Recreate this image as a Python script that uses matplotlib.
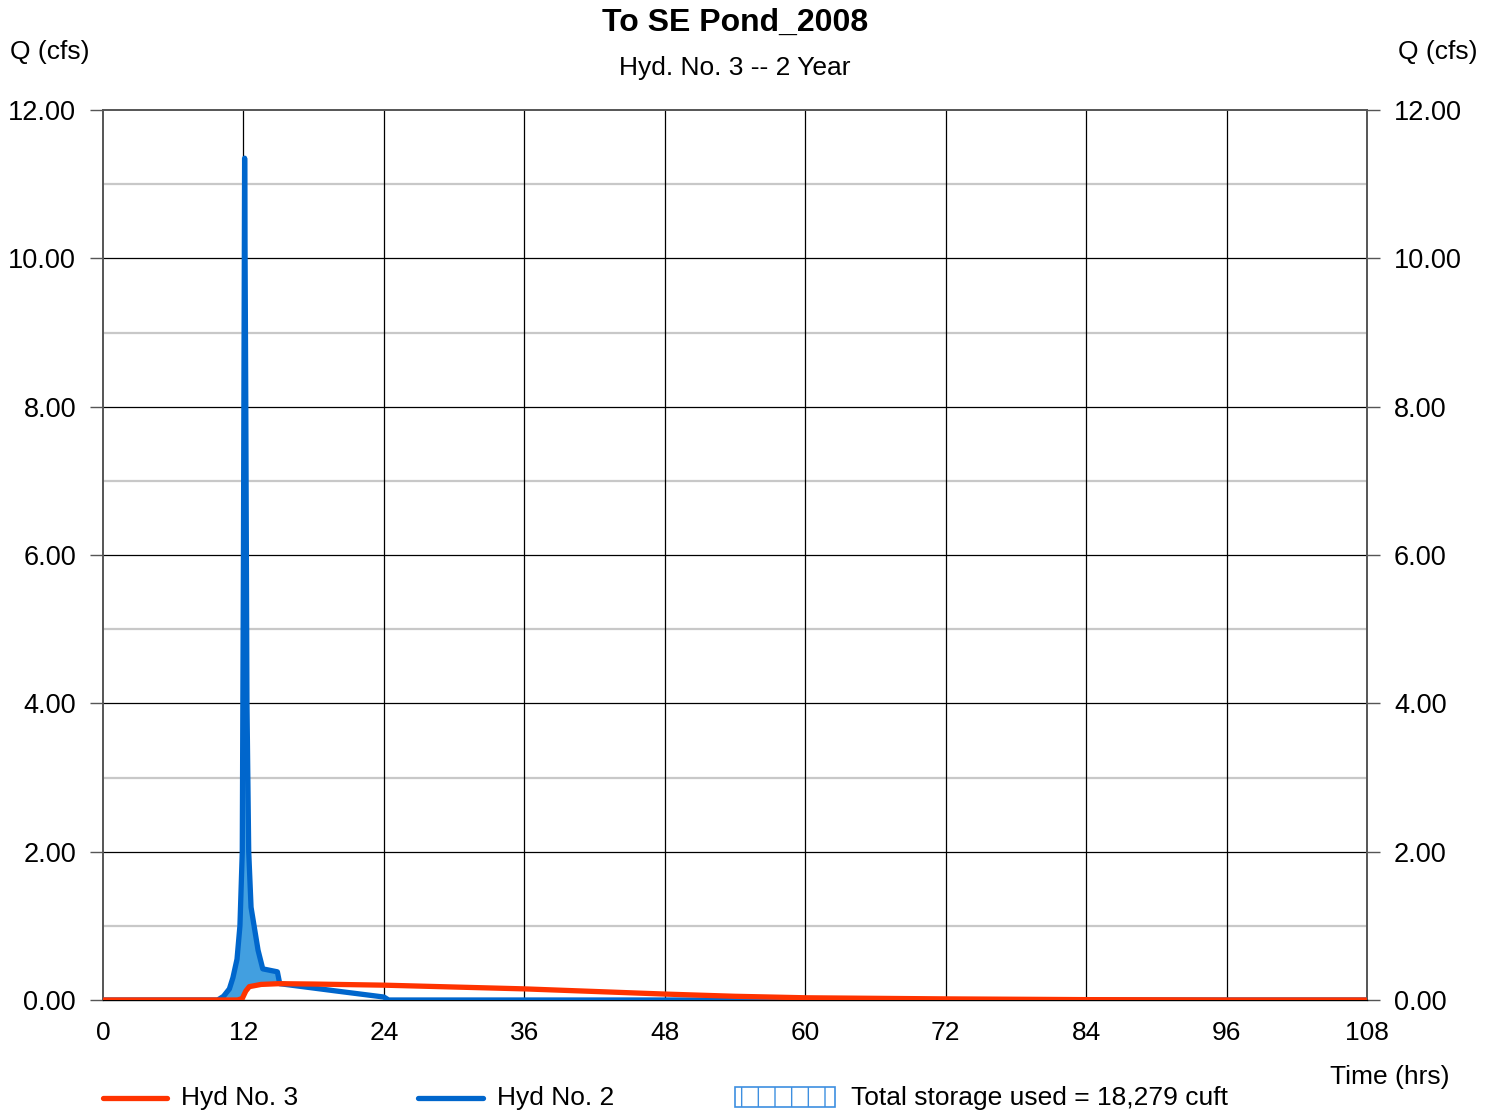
import numpy as np
import matplotlib
matplotlib.use("Agg")
import matplotlib.pyplot as plt
from matplotlib.lines import Line2D
from matplotlib.patches import Rectangle

plt.rcParams['font.family'] = ['Liberation Sans', 'DejaVu Sans']
plt.rcParams['hatch.linewidth'] = 1.0

# inflow hydrograph (Hyd No. 2)
t_in = [0, 9.8, 10.3, 10.8, 11.1, 11.45, 11.7, 11.9, 12.0, 12.1, 12.2, 12.3, 12.45,
        12.65, 13.25, 13.65, 14.9, 15.1, 20.0, 24.0, 24.4, 108]
q_in = [0, 0, 0.05, 0.15, 0.3, 0.55, 1.0, 2.0, 6.0, 11.35, 8.0, 4.0, 2.0,
        1.25, 0.67, 0.42, 0.38, 0.22, 0.12, 0.04, 0.0, 0.0]

# outflow hydrograph (Hyd No. 3)
t_out = [0, 11.5, 11.9, 12.2, 12.5, 13.5, 15.0, 18.0, 24.0, 36.0, 48.0, 54.0,
         60.0, 72.0, 84.0, 96.0, 108.0]
q_out = [0, 0, 0.02, 0.12, 0.18, 0.21, 0.22, 0.215, 0.2, 0.15, 0.08, 0.05,
         0.03, 0.015, 0.005, 0.0, 0.0]

x_ticks = [0, 12, 24, 36, 48, 60, 72, 84, 96, 108]
y_ticks = [0, 2, 4, 6, 8, 10, 12]
storage = "18,279"

red = '#ff3300'
blue = '#0066cc'
fill_col = '#429fe0'

fig = plt.figure(figsize=(14.94, 11.12), dpi=100)
ax = fig.add_axes([103/1494, 1 - 1000/1112, 1264/1494, 890/1112])

# storage area: where inflow exceeds outflow
tt = np.union1d(t_in, t_out)
qi = np.interp(tt, t_in, q_in)
qo = np.interp(tt, t_out, q_out)
ax.fill_between(tt, qi, qo, where=qi > qo, interpolate=True, color=fill_col,
                lw=0, zorder=2)
ax.plot(t_in, q_in, color=blue, lw=3.8, solid_capstyle='round',
        solid_joinstyle='round', zorder=3)
ax.plot(t_out, q_out, color=red, lw=3.8, solid_capstyle='round',
        solid_joinstyle='round', zorder=4)

ax.set_xlim(0, 108)
ax.set_ylim(0, 12)

# grid
for y in range(1, 12, 2):
    ax.axhline(y, color='#c8c8c8', lw=1.6, zorder=1)
for y in y_ticks[1:-1]:
    ax.axhline(y, color='black', lw=0.9, zorder=1)
for x in x_ticks[1:-1]:
    ax.axvline(x, color='black', lw=0.9, zorder=1)

for s in ['top', 'left', 'right']:
    ax.spines[s].set_color('#555555')
    ax.spines[s].set_linewidth(1.4)
ax.spines['bottom'].set_color('black')
ax.spines['bottom'].set_linewidth(1.0)

ax.set_xticks(x_ticks)
ax.set_xticklabels([str(v) for v in x_ticks])
ax.set_yticks(y_ticks)
ax.set_yticklabels(['%.2f' % v for v in y_ticks])
ax.tick_params(axis='x', length=0, pad=15, labelsize=19)
ax.tick_params(axis='y', which='major', direction='out', length=9.4, width=1.0,
               color='#555555', labelsize=19.5, left=True, right=True,
               labelleft=True, labelright=True, pad=10)
for lab in ax.get_yticklabels(which='major'):
    pass

# titles and axis labels
fig.text(735/1494, 1 - 23/1112, 'To SE Pond_2008', ha='center', va='center',
         fontsize=23, fontweight='bold')
fig.text(735/1494, 1 - 68/1112, 'Hyd. No. 3 -- 2 Year', ha='center', va='center',
         fontsize=19)
fig.text(10/1494, 1 - 52/1112, 'Q (cfs)', ha='left', va='center', fontsize=19)
fig.text(1477/1494, 1 - 52/1112, 'Q (cfs)', ha='right', va='center', fontsize=19)
fig.text(1390/1494, 1 - 1077/1112, 'Time (hrs)', ha='center', va='center',
         fontsize=19)

# legend
ly = 1 - 1098/1112
fig.add_artist(Line2D([103/1494, 167/1494], [ly, ly], color=red, lw=3.8,
                      solid_capstyle='round'))
fig.text(181/1494, ly, 'Hyd No. 3', ha='left', va='center', fontsize=19)
fig.add_artist(Line2D([418/1494, 483/1494], [ly, ly], color=blue, lw=3.8,
                      solid_capstyle='round'))
fig.text(497/1494, ly, 'Hyd No. 2', ha='left', va='center', fontsize=19)
fig.add_artist(Rectangle((735/1494, 1 - 1107/1112), 100/1494, 20/1112,
                         facecolor='white', edgecolor='#3d8fe0', hatch='|',
                         lw=1.2, transform=fig.transFigure))
fig.text(851/1494, ly, 'Total storage used = %s cuft' % storage, ha='left',
         va='center', fontsize=19)

fig.savefig('out.png', dpi=100)
